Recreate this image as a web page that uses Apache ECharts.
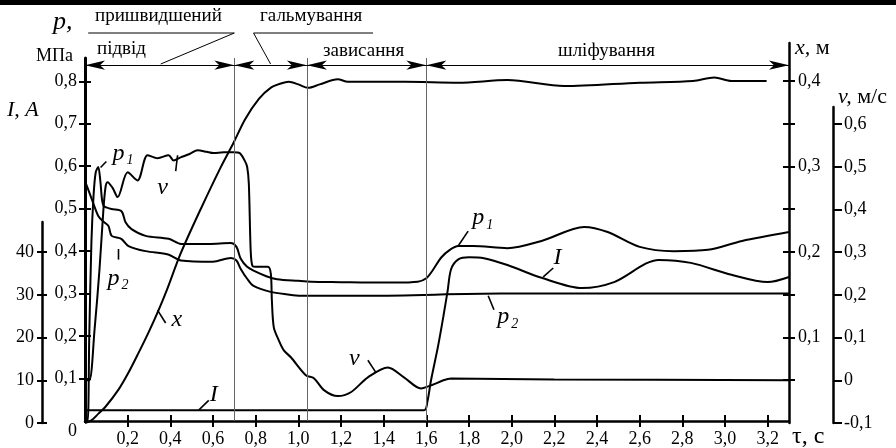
<!DOCTYPE html>
<html><head><meta charset="utf-8">
<script src="https://cdn.jsdelivr.net/npm/echarts@6/dist/echarts.min.js"></script>
<style>html,body{margin:0;padding:0;background:#fff}#c{width:896px;height:448px}</style>
</head><body><div id="c"></div>
<script>
// ---- axis ticks / labels ----
const tauTicks = [0.2,0.4,0.6,0.8,1.0,1.2,1.4,1.6,1.8,2.0,2.2,2.4,2.6,2.8,3.0,3.2];
const phaseBounds = [0, 0.7, 1.04, 1.6, 3.3];
const pTicks = [0.1,0.2,0.3,0.4,0.5,0.6,0.7,0.8];
const pLabels = [0,0.1,0.2,0.3,0.4,0.5,0.6,0.7,0.8];
const iTicks = [0,10,20,30,40];
const xTicks = [0.05,0.1,0.15,0.2,0.25,0.3,0.35,0.4];
const xLabels = [0.1,0.2,0.3,0.4];
const vTicks = [-0.1,0,0.1,0.2,0.3,0.4,0.5,0.6];

// ---- series data (tau, s) ----
const p1Tau = [0,0.012,0.02,0.03,0.04,0.05,0.062,0.072,0.08,0.088,0.1,0.124,0.171,0.19,0.218,0.284,0.392,0.45,0.58,0.683,0.71,0.73,0.76,0.79,0.85,0.9,1.0,1.06,1.2,1.33,1.45,1.56,1.6,1.63,1.67,1.71,1.75,1.82,1.98,2.14,2.34,2.45,2.6,2.76,2.92,3.08,3.3];
const p1Val = [0,0,0.2,0.42,0.53,0.585,0.598,0.565,0.52,0.506,0.503,0.499,0.494,0.468,0.452,0.436,0.429,0.417,0.417,0.419,0.41,0.382,0.363,0.354,0.341,0.334,0.33,0.328,0.327,0.326,0.326,0.328,0.336,0.355,0.385,0.403,0.412,0.412,0.407,0.424,0.457,0.445,0.41,0.40,0.403,0.424,0.445];
const p2Tau = [0,0.03,0.063,0.09,0.11,0.125,0.17,0.204,0.284,0.39,0.45,0.6,0.683,0.71,0.73,0.76,0.79,0.87,0.95,1.01,1.33,1.95,3.3];
const p2Val = [0.565,0.525,0.482,0.468,0.459,0.436,0.429,0.412,0.40,0.392,0.378,0.375,0.384,0.378,0.358,0.335,0.318,0.304,0.298,0.295,0.295,0.30,0.30];
const iTau = [0,0.006,0.02,1.59,1.605,1.622,1.655,1.68,1.70,1.716,1.75,1.8,1.87,1.98,2.14,2.33,2.48,2.69,2.84,3.03,3.2,3.3];
const iVal = [0,3,3,3,5,10,18,25,31,36,38.3,38.8,38.6,37,34,31.6,33,38.2,37.5,34.7,33,34.2];
const xTau = [0,0.03,0.063,0.096,0.157,0.204,0.251,0.298,0.345,0.383,0.448,0.542,0.636,0.697,0.75,0.815,0.87,0.918,0.955,1.0,1.045,1.1,1.185,1.232,1.5,1.75,1.98,2.246,2.6,2.85,2.95,3.03,3.195];
const xVal = [0,0.003,0.011,0.019,0.039,0.059,0.082,0.106,0.132,0.155,0.198,0.25,0.299,0.328,0.355,0.379,0.392,0.397,0.399,0.396,0.392,0.396,0.402,0.399,0.399,0.398,0.401,0.394,0.398,0.4,0.404,0.4,0.4];
const vTau = [0,0.02,0.045,0.068,0.087,0.097,0.106,0.13,0.153,0.2,0.246,0.293,0.34,0.392,0.415,0.448,0.49,0.528,0.57,0.603,0.65,0.697,0.725,0.748,0.76,0.768,0.777,0.786,0.8,0.857,0.871,0.876,0.885,0.908,0.932,0.965,1.035,1.073,1.12,1.185,1.246,1.326,1.42,1.495,1.575,1.627,1.68,1.716,2.2,3.3];
const vVal = [0,0,0.12,0.26,0.405,0.455,0.464,0.45,0.429,0.487,0.468,0.527,0.52,0.527,0.515,0.522,0.53,0.539,0.535,0.532,0.534,0.534,0.532,0.515,0.50,0.46,0.30,0.267,0.266,0.266,0.25,0.187,0.124,0.094,0.07,0.054,0.012,0.005,-0.023,-0.037,-0.028,0.007,0.03,0.007,-0.019,-0.011,0,0.004,0.002,0];

const SERIF = '"Liberation Serif","Times New Roman",serif';
const pairs = (t, v) => t.map((x, i) => [x, v[i]]);
const comma = v => Math.abs(v) < 1e-9 ? '0' : v.toFixed(1).replace('.', ',');
const comma2 = v => Math.abs(v) < 1e-9 ? '0' : (Math.round(v*100)/100).toFixed(1).replace('.', ',');

const G = {left: 85, right: 107, bottom: 25};
const P_MAX = 0.8548;
const lbl = {color: '#000', fontFamily: SERIF, fontSize: 18};
const tickStyle = {color: '#000', width: 2};
const axisLineStyle = w => ({show: true, onZero: false, lineStyle: {color: '#000', width: w}});
const noLine = {show: false, onZero: false};

function hiddenX(gi) { return {type: 'value', gridIndex: gi, min: 0, max: 3.3, show: false, axisLine: noLine}; }

const line = {type: 'line', showSymbol: false, symbol: 'none', smooth: 0.3, animation: false,
  lineStyle: {color: '#000', width: 2}, emphasis: {disabled: true}, z: 3};

const option = {
  animation: false,
  backgroundColor: '#fff',
  grid: [
    Object.assign({top: 58}, G),
    Object.assign({top: 222}, G),
    Object.assign({top: 43}, G),
    Object.assign({top: 107}, G)
  ],
  xAxis: [
    {type: 'value', gridIndex: 0, min: 0, max: 3.3, position: 'bottom',
      axisLine: axisLineStyle(2.5), splitLine: {show: false},
      axisTick: {show: true, customValues: tauTicks, length: 6, lineStyle: tickStyle},
      axisLabel: Object.assign({customValues: tauTicks, formatter: comma, margin: 9}, lbl)},
    {type: 'value', gridIndex: 0, min: 0, max: 3.3, position: 'bottom',
      axisLine: noLine, splitLine: {show: false},
      axisTick: {show: true, inside: true, customValues: tauTicks, length: 6, lineStyle: tickStyle},
      axisLabel: {show: false}},
    hiddenX(1), hiddenX(2), hiddenX(3)
  ],
  yAxis: [
    {type: 'value', gridIndex: 0, min: 0, max: P_MAX, position: 'left',
      axisLine: axisLineStyle(3), splitLine: {show: false},
      axisTick: {show: true, customValues: pTicks, length: 6, lineStyle: tickStyle},
      axisLabel: Object.assign({customValues: pLabels, margin: 8,
        formatter: v => Math.abs(v) < 1e-9 ? '{z|0}' : comma(v),
        rich: {z: {fontFamily: SERIF, fontSize: 18, color: '#000', padding: [20, 0, 0, 0]}}}, lbl)},
    {type: 'value', gridIndex: 0, min: 0, max: P_MAX, position: 'left',
      axisLine: noLine, splitLine: {show: false},
      axisTick: {show: true, inside: true, customValues: pTicks, length: 6, lineStyle: tickStyle},
      axisLabel: {show: false}},
    {type: 'value', gridIndex: 1, min: 0, max: 47.07, position: 'left', offset: 43,
      axisLine: axisLineStyle(2.5), splitLine: {show: false},
      axisTick: {show: true, customValues: iTicks, length: 5, lineStyle: tickStyle},
      axisLabel: Object.assign({customValues: iTicks, margin: 8, formatter: v => String(Math.round(v))}, lbl)},
    {type: 'value', gridIndex: 1, min: 0, max: 47.07, position: 'left', offset: 43,
      axisLine: noLine, splitLine: {show: false},
      axisTick: {show: true, inside: true, customValues: iTicks, length: 5, lineStyle: tickStyle},
      axisLabel: {show: false}},
    {type: 'value', gridIndex: 2, min: 0, max: 0.4444, position: 'right',
      axisLine: axisLineStyle(2.5), splitLine: {show: false},
      axisTick: {show: true, customValues: xTicks, length: 6, lineStyle: tickStyle},
      axisLabel: Object.assign({customValues: xLabels, margin: 9, formatter: comma2}, lbl)},
    {type: 'value', gridIndex: 2, min: 0, max: 0.4444, position: 'right',
      axisLine: noLine, splitLine: {show: false},
      axisTick: {show: true, inside: true, customValues: xTicks, length: 6, lineStyle: tickStyle},
      axisLabel: {show: false}},
    {type: 'value', gridIndex: 3, min: -0.1, max: 0.64, position: 'right', offset: 44,
      axisLine: axisLineStyle(2.5), splitLine: {show: false},
      axisTick: {show: true, customValues: vTicks, length: 9, lineStyle: tickStyle},
      axisLabel: Object.assign({customValues: vTicks, margin: 11, formatter: comma2}, lbl)}
  ],
  series: [
    Object.assign({}, line, {name: 'p1', xAxisIndex: 0, yAxisIndex: 0, data: pairs(p1Tau, p1Val),
      markLine: {silent: true, animation: false, symbol: ['none', 'none'], label: {show: false},
        lineStyle: {color: '#666', width: 1, type: 'solid'}, emphasis: {disabled: true},
        data: phaseBounds.slice(1, -1).map(t => [{coord: [t, 0]}, {coord: [t, P_MAX]}])}}),
    Object.assign({}, line, {name: 'p2', xAxisIndex: 0, yAxisIndex: 0, data: pairs(p2Tau, p2Val),
      markLine: {silent: true, animation: false, symbol: ['arrow', 'arrow'], symbolSize: [7, 20], label: {show: false},
        lineStyle: {color: '#000', width: 1, type: 'solid'}, emphasis: {disabled: true},
        data: phaseBounds.slice(0, -1).map((t, i) => [{coord: [t, 0.838]}, {coord: [phaseBounds[i + 1], 0.838]}])}}),
    Object.assign({}, line, {name: 'I', xAxisIndex: 2, yAxisIndex: 2, data: pairs(iTau, iVal)}),
    Object.assign({}, line, {name: 'x', xAxisIndex: 3, yAxisIndex: 4, data: pairs(xTau, xVal)}),
    Object.assign({}, line, {name: 'v', xAxisIndex: 4, yAxisIndex: 6, data: pairs(vTau, vVal)})
  ]
};

const chart = echarts.init(document.getElementById('c'), null, {renderer: 'canvas'});
chart.setOption(option);

// curve annotations in each series' own data units: label centre + leader segment
const notes = [
  {s: 0, t: 'p', sub: '1', at: [0.157, 0.63], lead: [[0.073, 0.597], [0.1, 0.611]]},
  {s: 4, t: 'v', at: [0.364, 0.452], lead: [[0.434, 0.527], [0.425, 0.49]]},
  {s: 1, t: 'p', sub: '2', at: [0.134, 0.335], lead: [[0.157, 0.405], [0.157, 0.38]]},
  {s: 3, t: 'x', at: [0.43, 0.121], lead: [[0.34, 0.132], [0.378, 0.117]]},
  {s: 2, t: 'I', at: [0.603, 6.6], lead: [[0.533, 3.0], [0.58, 5.3]]},
  {s: 0, t: 'p', sub: '1', at: [1.843, 0.478], lead: [[1.749, 0.412], [1.796, 0.447]]},
  {s: 2, t: 'I', at: [2.215, 38.6], lead: [[2.148, 34.2], [2.195, 36.3]]},
  {s: 1, t: 'p', sub: '2', at: [1.96, 0.245], lead: [[1.89, 0.295], [1.917, 0.262]]},
  {s: 4, t: 'v', at: [1.262, 0.05], lead: [[1.326, 0.047], [1.364, 0.018]]}
];
const px = (s, a) => chart.convertToPixel({seriesIndex: s}, a);
const tx = t => chart.convertToPixel({xAxisIndex: 0}, t);
const g = [];
const txt = (x, y, text, font, extra) => g.push(Object.assign({type: 'text', x: x, y: y, z: 10,
  style: Object.assign({text: text, fill: '#000', font: font, align: 'left', verticalAlign: 'middle'}, extra || {})}));
const seg = (a, b, w) => g.push({type: 'line', z: 10, shape: {x1: a[0], y1: a[1], x2: b[0], y2: b[1]},
  style: {stroke: '#000', lineWidth: w || 1.5}});

notes.forEach(n => {
  const c = px(n.s, n.at);
  txt(c[0], c[1], n.t, 'italic 24px ' + SERIF, {align: 'center'});
  if (n.sub) txt(c[0] + 8, c[1] + 7, n.sub, 'italic 14px ' + SERIF);
  seg(px(n.s, n.lead[0]), px(n.s, n.lead[1]), 1.6);
});

// top border
g.push({type: 'rect', shape: {x: 0, y: 0, width: 896, height: 5}, style: {fill: '#000'}, z: 10});

// phase headers
const hf = '19px ' + SERIF;
txt(95, 16, 'пришвидшений', hf);
txt(97, 49, 'підвід', hf);
txt(260, 16, 'гальмування', hf);
txt(323, 51, 'зависання', hf);
txt(558, 51, 'шліфування', hf);
seg([tx(0.015), 33], [tx(0.7), 33], 1);
seg([tx(0.7), 33], [tx(0.355), 64], 1);
seg([tx(0.79), 33], [tx(1.35), 33], 1);
seg([tx(0.79), 33], [tx(0.87), 64], 1);

// axis titles
txt(53, 22, 'p,', 'italic 26px ' + SERIF);
txt(36, 56, 'МПа', '18px ' + SERIF);
txt(7, 110, 'I, A', 'italic 22px ' + SERIF);
txt(795, 48, '{i|x,} м', '22px ' + SERIF, {rich: {i: {fontStyle: 'italic', fontSize: 22, fontFamily: SERIF}}});
txt(838, 97, '{i|v,} м/с', '22px ' + SERIF, {rich: {i: {fontStyle: 'italic', fontSize: 22, fontFamily: SERIF}}});
txt(792, 437, 'τ, с', '24px ' + SERIF);

chart.setOption({graphic: g});
</script></body></html>
